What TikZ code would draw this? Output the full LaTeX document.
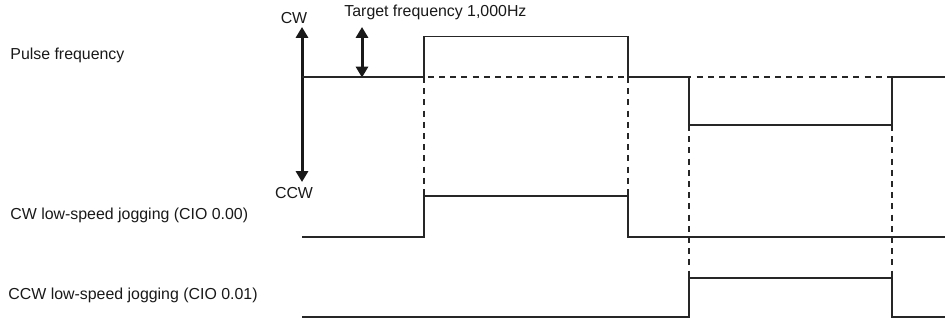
\documentclass[tikz,border=0pt]{standalone}
\usepackage{fontspec}
\setmainfont{Liberation Sans}
\usepackage{tikz}
\usetikzlibrary{arrows.meta}

\begin{document}
\begin{tikzpicture}[
    x=0.5pt, y=-0.5pt,
    lbl/.style={font=\fontsize{7.95}{9}\selectfont, text=black!90, inner sep=0pt},
    sig/.style={line width=0.65pt, black!85},
    guide/.style={line width=0.55pt, black!85, dash pattern=on 3pt off 2.6pt},
    dirarr/.style={{Triangle[length=5.4pt, width=6pt]}-{Triangle[length=5.4pt, width=6pt]},
                   line width=1.5pt, black!90},
]
\useasboundingbox (0,0) rectangle (945,322);

% --- Row labels ---
\node[lbl, anchor=west] (lblpulse) at (10,55) {Pulse frequency};
\node[lbl, anchor=west] (lblcw) at (10,215) {CW low-speed jogging (CIO 0.00)};
\node[lbl, anchor=west] (lblccw) at (8,295) {CCW low-speed jogging (CIO 0.01)};

% --- Direction arrow ---
\node[lbl] (cwtext) at (294,18) {CW};
\node[lbl] (ccwtext) at (294,193) {CCW};
\coordinate (cwtop) at (302,27);
\coordinate (ccwbot) at (302,182);
\draw[dirarr] (cwtop) -- (ccwbot);

% --- Target frequency ---
\node[lbl, anchor=west] (target) at (344,12.5) {Target frequency 1,000Hz};
\coordinate (tgtop) at (362,27);
\coordinate (tgbot) at (362,77.5);
\draw[dirarr] (tgtop) -- (tgbot);

% --- Guides ---
\draw[guide] (383,77) -- (892,77);
\draw[guide] (424,77) -- (424,196);
\draw[guide] (628,77) -- (628,196);
\draw[guide] (689,125) -- (689,278);
\draw[guide] (892,125) -- (892,278);

% --- Signals ---
\draw[sig] (302,77) -- (424,77) -- (424,36.5) -- (628,36.5) -- (628,77)
    -- (689,77) -- (689,125) -- (892,125) -- (892,77) -- (945,77);
\draw[sig] (302,237) -- (424,237) -- (424,196) -- (628,196) -- (628,237) -- (945,237);
\draw[sig] (302,317) -- (689,317) -- (689,278) -- (892,278) -- (892,317) -- (945,317);

\end{tikzpicture}
\end{document}
